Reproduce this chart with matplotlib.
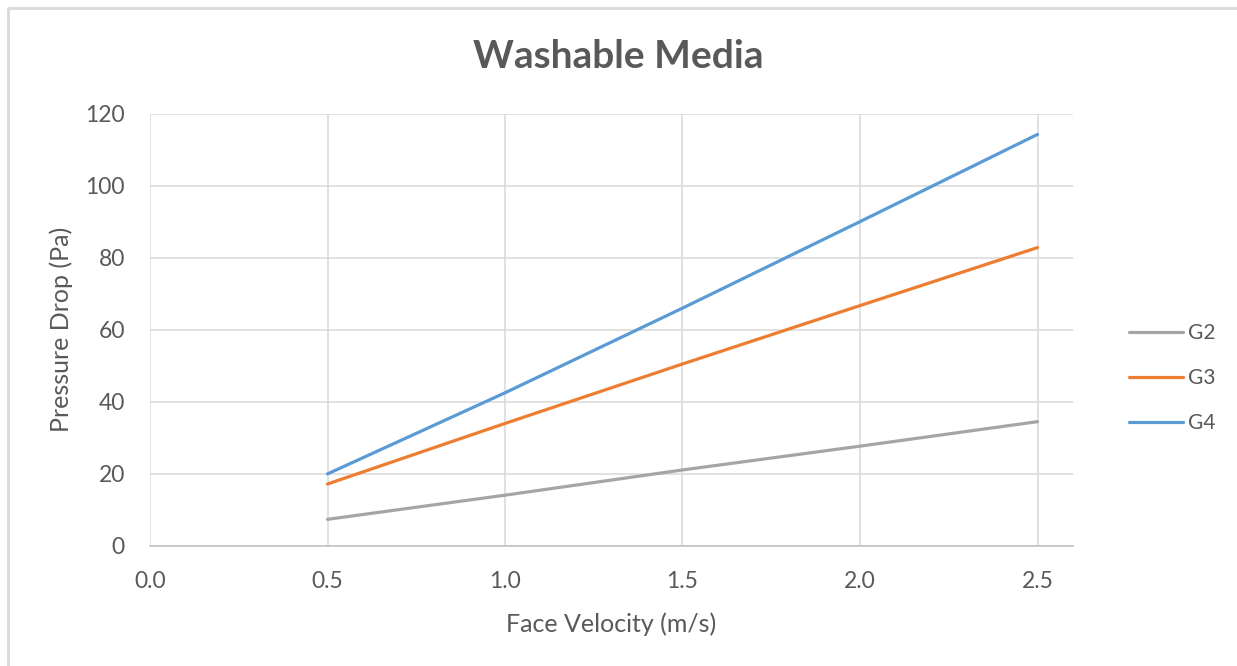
import matplotlib.pyplot as plt
from matplotlib.lines import Line2D

# Face velocity (m/s) and pressure drop (Pa)
velocity = [0.5, 1.0, 1.5, 2.0, 2.5]
g2 = [7.4, 14.1, 21.1, 27.7, 34.5]
g3 = [17.2, 34.0, 50.5, 66.7, 82.8]
g4 = [20.0, 42.5, 66.0, 90.0, 114.2]
series_names = ['G2', 'G3', 'G4']
x_ticks = [0.0, 0.5, 1.0, 1.5, 2.0, 2.5]
y_ticks = [0, 20, 40, 60, 80, 100, 120]

plt.rcParams['font.family'] = ['Lato', 'DejaVu Sans']
text_col = '#595959'
grid_col = '#d9d9d9'

fig = plt.figure(figsize=(12.37, 6.66), dpi=100)
# chart frame (only top and left edges are inside the picture)
fig.lines.append(Line2D([8 / 1237, 8 / 1237, 1.01], [-0.01, 1 - 8 / 666, 1 - 8 / 666],
                        transform=fig.transFigure, color='#d9d9d9', linewidth=2))
ax = fig.add_axes([150 / 1237, 1 - 546 / 666, (1073 - 150) / 1237, (546 - 113.5) / 666])

colors = ['#a5a5a5', '#ed7d31', '#5b9bd5']
for name, vals, c in zip(series_names, [g2, g3, g4], colors):
    ax.plot(velocity, vals, color=c, linewidth=2.3, label=name, solid_capstyle='round')

ax.set_xlim(0, 2.6)
ax.set_ylim(0, 120)
ax.set_xticks(x_ticks)
ax.set_xticklabels(['%.1f' % v for v in x_ticks])
ax.set_yticks(y_ticks)
ax.grid(True, color=grid_col, linewidth=1.1)
ax.set_axisbelow(True)
for s in ['top', 'right', 'left']:
    ax.spines[s].set_visible(False)
ax.spines['bottom'].set_color('#bfbfbf')
ax.spines['bottom'].set_linewidth(1.1)
ax.tick_params(length=0, labelsize=16.5, colors=text_col)
ax.tick_params(axis='x', pad=18)
ax.tick_params(axis='y', pad=18)

ax.set_xlabel('Face Velocity (m/s)', fontsize=18, color=text_col, labelpad=15)
ax.set_ylabel('Pressure Drop (Pa)', fontsize=18, color=text_col, labelpad=9)
fig.text(0.5, 1 - 56 / 666, 'Washable Media', ha='center', va='center',
         fontsize=28, fontweight='bold', color=text_col)

fig.legend(loc='center left', bbox_to_anchor=(1129 / 1237, 1 - 378 / 666), frameon=False,
           fontsize=15, labelcolor=text_col, handlelength=2.6, handletextpad=0.25,
           labelspacing=1.2, borderpad=0, borderaxespad=0)

fig.savefig('out.png', dpi=100)
